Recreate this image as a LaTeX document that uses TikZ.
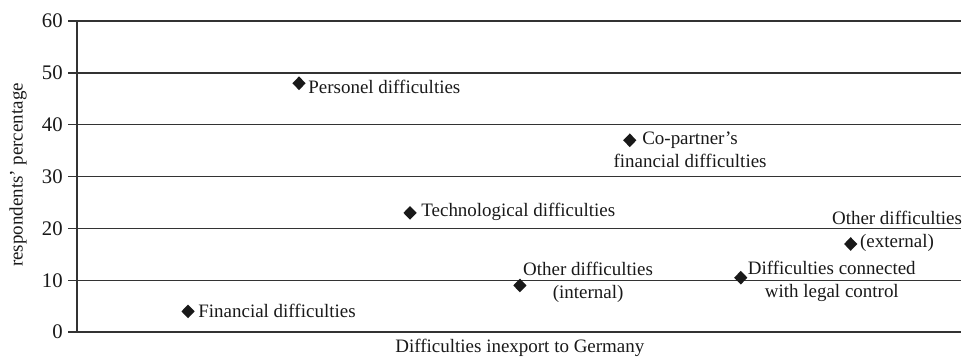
\documentclass[tikz,border=0pt]{standalone}
\usepackage{fontspec}
\setmainfont{Liberation Serif}
\usetikzlibrary{shapes.geometric}

\begin{document}
\begin{tikzpicture}[x=2.22cm, y=0.1037cm, font=\fontsize{10.8}{13}\selectfont,
  gridln/.style={line width=0.8pt, black!80},
  datapt/.style={diamond, fill=black!90, inner sep=0pt, minimum width=0.27cm, minimum height=0.28cm},
  lbl/.style={inner sep=0pt, align=center, text=black!90}]
\useasboundingbox (-0.694,-4.82) rectangle (7.991,64.06);
% grid and axes
\foreach \v in {10,20,...,60}
  \draw [gridln] (0,\v) -- (7.96,\v);
\draw [gridln] (0,60) -- (0,0) -- (7.96,0);
\foreach \v in {0,10,...,60} {
  \draw [gridln] (-0.081,\v) -- (0,\v);
  \node [lbl, anchor=east, font=\fontsize{11.8}{13}\selectfont] (tick\v) at (-0.126,\v) {\v};
}
\node [lbl, rotate=90] (ytitle) at (-0.532,30.3) {respondents' percentage};
\node [lbl] (xtitle) at (3.99,-3.1) {Difficulties inexport to Germany};

% points
\node [datapt] (fin) at (1,4) {};
\node [datapt] (pers) at (2,48) {};
\node [datapt] (tech) at (3,23) {};
\node [datapt] (othin) at (3.99,9) {};
\node [datapt] (copart) at (4.98,37) {};
\node [datapt] (legal) at (5.98,10.5) {};
\node [datapt] (othex) at (6.97,17) {};

% labels
\node [lbl, anchor=west] (finlbl) at (1.09,4) {Financial difficulties};
\node [lbl, anchor=west] (perslbl) at (2.081,47.2) {Personel difficulties};
\node [lbl, anchor=west] (techlbl) at (3.099,23.1) {Technological difficulties};
\node [lbl] (othinlbl) at (4.604,9.6) {Other difficulties\\(internal)};
\node [lbl] (copartlbl) at (5.523,35.1) {Co-partner's\\financial difficulties};
\node [lbl] (legallbl) at (6.80,9.8) {Difficulties connected\\with legal control};
\node [lbl] (othexlbl) at (7.387,19.5) {Other difficulties\\(external)};
\end{tikzpicture}
\end{document}
